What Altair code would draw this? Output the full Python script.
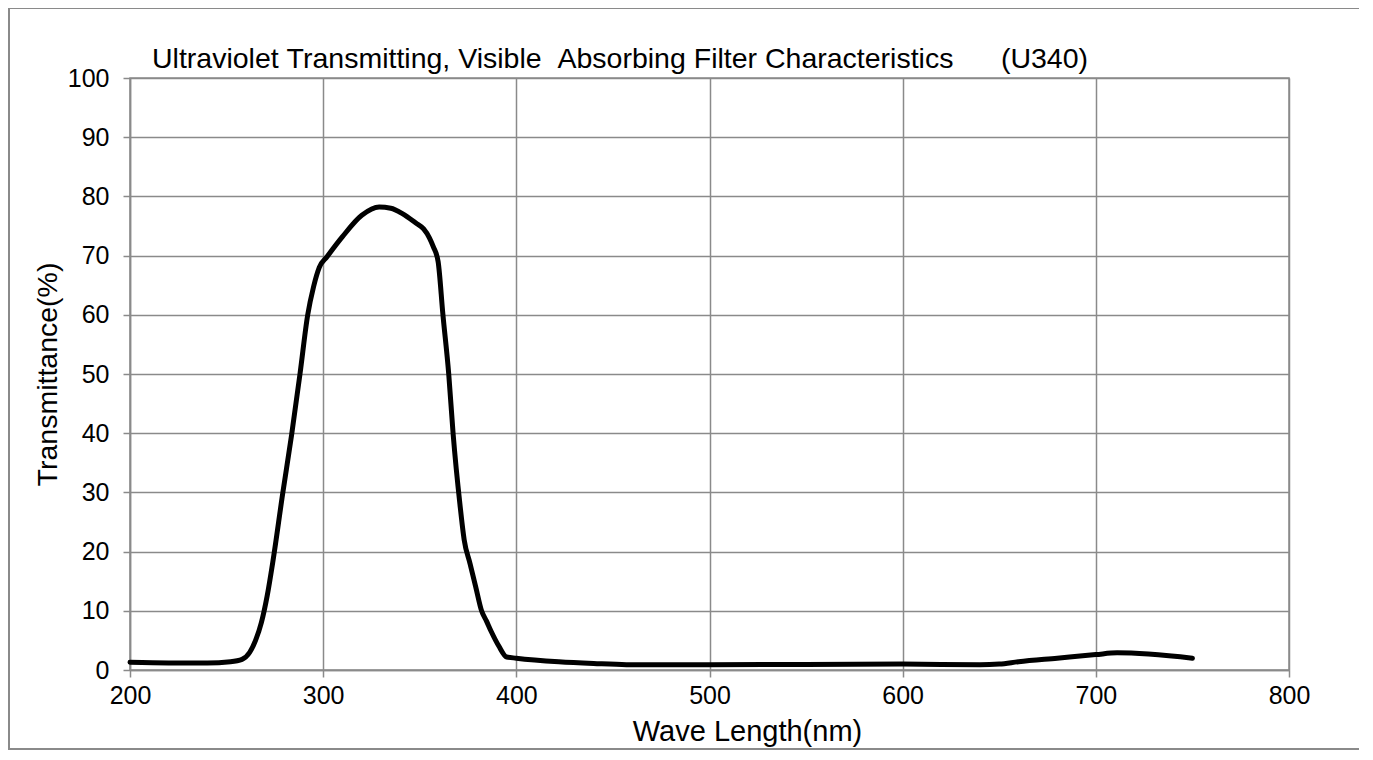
import altair as alt
import pandas as pd

wavelength = [200, 220, 240, 252, 258, 262, 265, 268, 271, 274, 279, 283.7, 288, 292, 295, 298, 302,
              310, 320, 329, 335, 341, 348, 352, 355, 357, 359.5, 362, 365, 367.3, 370.8, 373, 376,
              379, 382, 384.5, 387, 391, 395, 400, 422, 440, 457, 500, 600, 640, 650, 660, 680,
              700, 711, 750]
transmittance = [1.3, 1.2, 1.2, 1.4, 1.8, 3.0, 5.0, 8.0, 12.5, 18.4, 29.7, 39.8, 50, 60, 64.7, 68, 69.8,
                 73.2, 76.8, 78.2, 78.0, 77.1, 75.5, 74.5, 73.0, 71.5, 69.0, 60, 50, 39.8, 28, 22, 18,
                 14, 10, 8.3, 6.5, 4.0, 2.2, 2.0, 1.4, 1.1, 0.9, 0.9, 1.0, 0.9, 1.0, 1.4, 2.0,
                 2.6, 2.9, 2.0]

title_text = "Ultraviolet Transmitting, Visible  Absorbing Filter Characteristics      (U340)".replace(" ", "\u00a0")
x_ticks = [200, 300, 400, 500, 600, 700, 800]
y_ticks = [0, 10, 20, 30, 40, 50, 60, 70, 80, 90, 100]

df = pd.DataFrame({"wl": wavelength, "t": transmittance})

W, H = 1159, 592
grid_color = "#8a8a8a"

line = alt.Chart(df).mark_line(color="black", strokeWidth=5, interpolate="monotone", strokeCap="round").encode(
    x=alt.X("wl:Q", scale=alt.Scale(domain=[200, 800], nice=False),
            axis=alt.Axis(values=x_ticks, title="Wave Length(nm)", grid=True, tickSize=7,
                          labelPadding=6, labelFontSize=25, titleFontSize=29,
                          titleX=617, titleY=70, titleAlign="center", titleBaseline="alphabetic",
                          labelFlush=False, titleFontWeight=400, gridColor=grid_color)),
    y=alt.Y("t:Q", scale=alt.Scale(domain=[0, 100], nice=False),
            axis=alt.Axis(values=y_ticks, title="Transmittance(%)", grid=True, tickSize=7,
                          labelPadding=14, titlePadding=5, labelFontSize=25, titleFontSize=28.5,
                          labelFlush=False, titleFontWeight=400, gridColor=grid_color)),
)

frame = alt.Chart(df).mark_rect(fill=None, stroke=grid_color, strokeWidth=1.5, clip=False).encode(
    x=alt.value(-121), x2=alt.value(W + 77), y=alt.value(-70), y2=alt.value(H + 79)
)

title = alt.Chart(pd.DataFrame({"label": [title_text]})).mark_text(
    align="left", baseline="alphabetic", fontSize=28.5, font="Liberation Sans", color="black"
).encode(text="label:N", x=alt.value(22), y=alt.value(-10))

chart = alt.layer(frame, line, title).properties(
    width=W, height=H,
    padding={"left": 122, "top": 70, "right": 70, "bottom": 80},
    autosize=alt.AutoSizeParams(type="none"),
).configure(background="white").configure_axis(
    labelFont="Liberation Sans", titleFont="Liberation Sans", labelColor="black", titleColor="black",
    titleFontWeight=400, domainColor=grid_color, tickColor=grid_color, gridColor=grid_color,
    domainWidth=1.5, tickWidth=1.5, gridWidth=1.5, gridOpacity=1,
).configure_view(stroke=grid_color, strokeWidth=1.5)

chart.save("out.html", embed_options={"renderer": "svg", "actions": False})
